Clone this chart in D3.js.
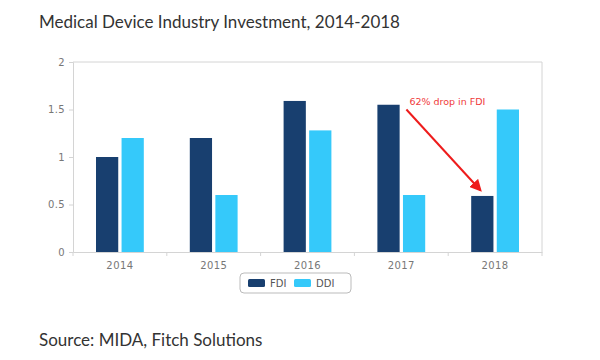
<!DOCTYPE html>
<html>
<head>
<meta charset="utf-8">
<script src="https://cdnjs.cloudflare.com/ajax/libs/d3/7.8.5/d3.min.js"></script>
<style>
  body { margin: 0; background: #fff; }
  .tick text { font-family: "DejaVu Sans", sans-serif; font-size: 10px; fill: #777; letter-spacing: 0.4px; }
</style>
</head>
<body>
<div id="chart"></div>
<script>
// Medical device investment, FDI vs DDI
var years = ["2014", "2015", "2016", "2017", "2018"];
var series = ["FDI", "DDI"];
var fdi = [1.0, 1.2, 1.59, 1.55, 0.59];
var ddi = [1.2, 0.6, 1.28, 0.6, 1.5];
var yTicks = [0, 0.5, 1, 1.5, 2];
var colors = ["#183f6f", "#35c9fa"];

var svgWidth = 600, svgHeight = 360;
var margin = { top: 62, right: 58, bottom: 108, left: 73 };
var width = svgWidth - margin.left - margin.right;
var height = svgHeight - margin.top - margin.bottom;

var svg = d3.select("#chart").append("svg")
  .attr("width", svgWidth)
  .attr("height", svgHeight);

svg.append("text")
  .attr("x", 39).attr("y", 28)
  .attr("font-family", "Lato, sans-serif")
  .attr("font-size", 17)
  .attr("fill", "#333")
  .text("Medical Device Industry Investment, 2014-2018");

svg.append("text")
  .attr("x", 39).attr("y", 346)
  .attr("font-family", "Lato, sans-serif")
  .attr("font-size", 17)
  .attr("fill", "#333")
  .text("Source: MIDA, Fitch Solutions");

var chart = svg.append("g")
  .attr("transform", "translate(" + margin.left + "," + margin.top + ")");

var x0 = d3.scaleBand().domain(years).range([0, width]);
var x1 = d3.scaleBand().domain(series).range([23, x0.bandwidth() - 23]).paddingInner(0.13);
var y = d3.scaleLinear().domain([0, 2]).range([height, 0]);

// plot frame (top + right)
chart.append("path")
  .attr("d", "M0,0H" + width + "V" + height)
  .attr("fill", "none")
  .attr("stroke", "#d4d4d4");

// y axis
var yAxis = chart.append("g")
  .call(d3.axisLeft(y).tickValues(yTicks).tickSize(4).tickPadding(4).tickFormat(d3.format("~g")));
yAxis.select(".domain").attr("stroke", "#d4d4d4");
yAxis.selectAll(".tick line").attr("stroke", "#d4d4d4");

// x axis with ticks on band boundaries
var xAxis = chart.append("g")
  .attr("transform", "translate(0," + height + ")")
  .call(d3.axisBottom(x0).tickSize(0).tickPadding(10));
xAxis.select(".domain").attr("stroke", "#d4d4d4");
var bounds = years.map(function(d) { return x0(d); }).concat([width]);
xAxis.selectAll(".bound").data(bounds).enter().append("line")
  .attr("x1", function(d) { return d; }).attr("x2", function(d) { return d; })
  .attr("y1", 0).attr("y2", 4)
  .attr("stroke", "#d4d4d4");

// bars
var groups = chart.selectAll(".year").data(years).enter().append("g")
  .attr("transform", function(d) { return "translate(" + x0(d) + ",0)"; });

groups.selectAll("rect")
  .data(function(d, i) { return [{ key: "FDI", v: fdi[i] }, { key: "DDI", v: ddi[i] }]; })
  .enter().append("rect")
  .attr("x", function(d) { return x1(d.key); })
  .attr("width", x1.bandwidth())
  .attr("y", function(d) { return y(d.v); })
  .attr("height", function(d) { return height - y(d.v); })
  .attr("fill", function(d, i) { return colors[i]; });

// annotation
var defs = svg.append("defs");
defs.append("marker")
  .attr("id", "arrow")
  .attr("viewBox", "0 0 10 10")
  .attr("refX", 8).attr("refY", 5)
  .attr("markerWidth", 6).attr("markerHeight", 6)
  .attr("orient", "auto")
  .append("path").attr("d", "M0,0L10,5L0,10z").attr("fill", "#ee1c1c");

var ax1 = x0("2017") + 52, ay1 = y(1.5);
var ax2 = x0("2018") + x1("FDI") + 9, ay2 = y(fdi[4]) - 6;
chart.append("line")
  .attr("x1", ax1).attr("y1", ay1)
  .attr("x2", ax2).attr("y2", ay2)
  .attr("stroke", "#ee1c1c")
  .attr("stroke-width", 2)
  .attr("marker-end", "url(#arrow)");

chart.append("text")
  .attr("x", ax1 + 3).attr("y", ay1 - 5)
  .attr("font-family", "DejaVu Sans, sans-serif")
  .attr("font-size", 9.5)
  .attr("fill", "#f03a3a")
  .text("62% drop in FDI");

// legend
var legend = svg.append("g").attr("transform", "translate(240,273)");
legend.append("rect")
  .attr("width", 111).attr("height", 20)
  .attr("rx", 4)
  .attr("fill", "#fff")
  .attr("stroke", "#bbb");
var items = legend.selectAll(".item").data(series).enter().append("g")
  .attr("transform", function(d, i) { return "translate(" + (8 + i * 46) + ",0)"; });
items.append("rect")
  .attr("y", 6).attr("width", 17).attr("height", 8).attr("rx", 1.5)
  .attr("fill", function(d, i) { return colors[i]; });
items.append("text")
  .attr("x", 22).attr("y", 14)
  .attr("font-family", "DejaVu Sans, sans-serif")
  .attr("font-size", 10)
  .attr("fill", "#555")
  .text(function(d) { return d; });
</script>
</body>
</html>
